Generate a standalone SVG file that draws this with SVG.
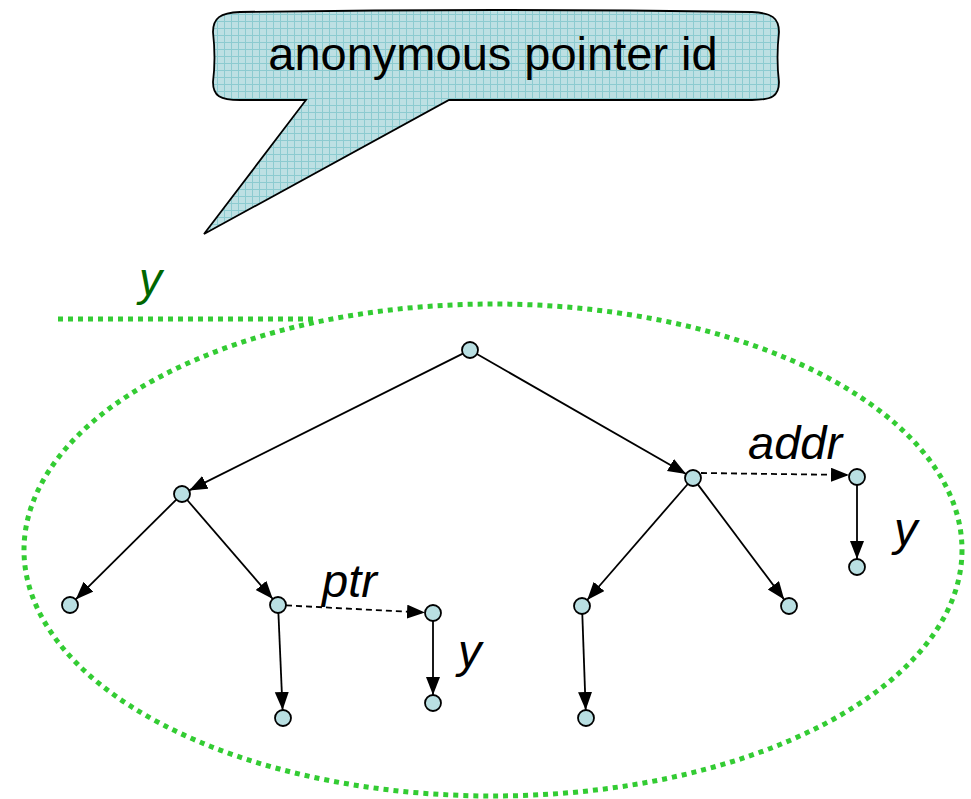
<svg xmlns="http://www.w3.org/2000/svg" width="971" height="799" viewBox="0 0 971 799">
<defs>
<pattern id="grid" width="7" height="7" patternUnits="userSpaceOnUse">
<rect width="7" height="7" fill="#bde0e3"/>
<path d="M0,0.5 H7 M0.5,0 V7" stroke="#8ccbd0" stroke-width="1"/>
</pattern>
<marker id="ah" markerUnits="userSpaceOnUse" markerWidth="20" markerHeight="16" refX="18" refY="7" orient="auto">
<path d="M0,0 L18,7 L0,14 z" fill="#000"/>
</marker>
<style>
.edge{stroke:#000;stroke-width:1.8;fill:none;marker-end:url(#ah)}
.dash{stroke-dasharray:6 4}
.node{fill:#b9dfe2;stroke:#000;stroke-width:1.8}
.lbl{font-family:"Liberation Sans",Arial,sans-serif;font-style:italic;font-size:47px;fill:#000}
.green{stroke:#33cc33;stroke-width:5;stroke-dasharray:5 5;fill:none}
</style>
</defs>
<rect width="971" height="799" fill="#fff"/>

<g id="callout">
<path d="M240,12 Q493,8 752,12 C772,13 779,18 779,32 C777,50 777,66 779,82 C779,96 772,100 752,100 L449,100 L204,234 L306,100 L240,100 C220,100 213,96 213,82 C215,66 215,50 213,32 C213,18 220,13 240,12 Z" fill="url(#grid)" stroke="#000" stroke-width="1.8"/>
<text x="493" y="70" font-family="'Liberation Sans',Arial,sans-serif" font-size="47" text-anchor="middle" fill="#000">anonymous pointer id</text>
</g>

<g id="scope">
<ellipse cx="493" cy="550" rx="469" ry="246" class="green"/>
<line x1="58" y1="319" x2="316" y2="319" class="green"/>
<text x="139" y="295" font-family="'Liberation Sans',Arial,sans-serif" font-style="italic" font-size="46" fill="#006600">y</text>
</g>

<g id="connectors">
<line class="edge" x1="462.8" y1="353.6" x2="189.2" y2="490.4"/>
<line class="edge" x1="476.9" y1="354" x2="686.1" y2="474"/>
<line class="edge" x1="176.3" y1="499.6" x2="75.7" y2="599.4"/>
<line class="edge" x1="187.2" y1="500" x2="272.8" y2="599"/>
<line class="edge" x1="278.4" y1="613" x2="282.6" y2="710"/>
<line class="edge" x1="433" y1="621" x2="433" y2="695"/>
<line class="edge" x1="687.8" y1="484" x2="587.2" y2="600"/>
<line class="edge" x1="697.8" y1="484.4" x2="784.2" y2="599.6"/>
<line class="edge" x1="582.3" y1="614" x2="585.7" y2="710"/>
<line class="edge" x1="857" y1="485" x2="857" y2="559"/>
<line class="edge dash" x1="286" y1="605.4" x2="425" y2="612.6"/>
<line class="edge dash" x1="701" y1="473" x2="849" y2="475"/>
<text class="lbl" x="322" y="597">ptr</text>
<text class="lbl" x="748" y="459">addr</text>
<text class="lbl" x="458" y="667">y</text>
<text class="lbl" x="894" y="545">y</text>
</g>

<g id="n-root"><circle class="node" cx="470" cy="350" r="8"/></g>
<g id="n-l"><circle class="node" cx="182" cy="494" r="8"/></g>
<g id="n-r"><circle class="node" cx="693" cy="478" r="8"/></g>
<g id="n-ll"><circle class="node" cx="70" cy="605" r="8"/></g>
<g id="n-lr"><circle class="node" cx="278" cy="605" r="8"/></g>
<g id="n-lrb"><circle class="node" cx="283" cy="718" r="8"/></g>
<g id="n-ptr"><circle class="node" cx="433" cy="613" r="8"/></g>
<g id="n-ptrb"><circle class="node" cx="433" cy="703" r="8"/></g>
<g id="n-rl"><circle class="node" cx="582" cy="606" r="8"/></g>
<g id="n-rr"><circle class="node" cx="789" cy="606" r="8"/></g>
<g id="n-rlb"><circle class="node" cx="586" cy="718" r="8"/></g>
<g id="n-addr"><circle class="node" cx="857" cy="477" r="8"/></g>
<g id="n-addrb"><circle class="node" cx="857" cy="567" r="8"/></g>
</svg>
